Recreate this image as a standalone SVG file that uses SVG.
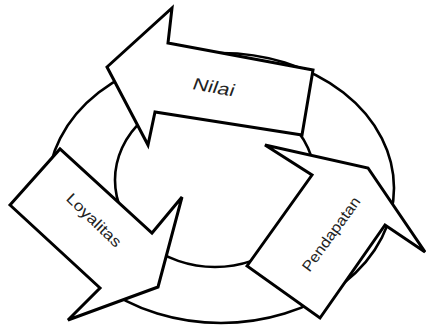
<svg xmlns="http://www.w3.org/2000/svg" width="426" height="329" viewBox="0 0 426 329">
<style>
.ring{fill:none;stroke:#000;stroke-width:2.6}
.arrow{fill:#fff;stroke:#000;stroke-width:3;stroke-linejoin:miter}
.lbl{font-family:"Liberation Sans",Arial,sans-serif;fill:#222;text-anchor:middle}
</style>
<rect width="426" height="329" fill="#fff"/>
<g id="connectors">
<ellipse class="ring" cx="221" cy="188" rx="173" ry="135"/>
<ellipse class="ring" cx="215" cy="180" rx="100" ry="87"/>
</g>
<g id="nilai">
<polygon class="arrow" points="107,67 172,8 168,43 313,70 302,135 155,112 148,145"/>
<text class="lbl" font-size="17" transform="translate(214,87) rotate(10) skewX(-10)" dy="0.35em" textLength="42" lengthAdjust="spacingAndGlyphs">Nilai</text>
</g>
<g id="loyalitas">
<polygon class="arrow" points="10,205 60,149 152,233 182,197 158,287 68,320 100,288"/>
<text class="lbl" font-size="15" transform="translate(94,220) rotate(44)" dy="0.35em" textLength="70" lengthAdjust="spacingAndGlyphs">Loyalitas</text>
</g>
<g id="pendapatan">
<polygon class="arrow" points="247,266 312,175 265,145 368,168 425,252 385,225 320,318"/>
<text class="lbl" font-size="15" transform="translate(331,234) rotate(-54)" dy="0.35em" textLength="88" lengthAdjust="spacingAndGlyphs">Pendapatan</text>
</g>
</svg>
